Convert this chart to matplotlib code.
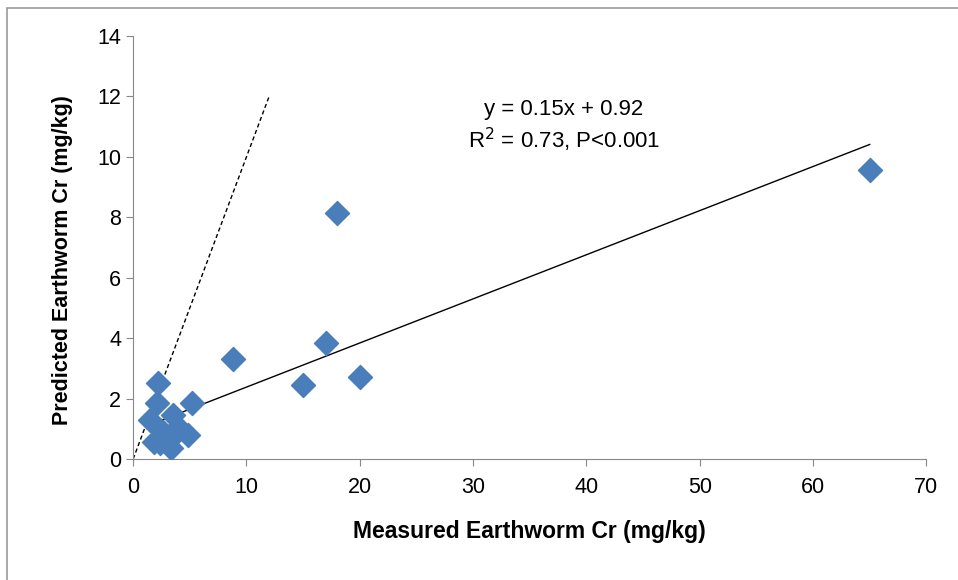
import matplotlib.pyplot as plt
from matplotlib.patches import Rectangle

# measured vs predicted earthworm Cr (mg/kg)
measured = [65, 18, 17, 8.8, 15, 20, 2.2, 2.1, 5.2, 1.5, 3.5,
            1.8, 3.3, 4.85, 2.6, 4.0, 3.3, 2.4]
predicted = [9.55, 8.15, 3.85, 3.3, 2.45, 2.7, 2.52, 1.85, 1.85, 1.3, 1.45,
             0.56, 0.36, 0.79, 0.9, 1.06, 0.7, 0.53]

fit_slope = 0.146
fit_intercept = 0.92
fit_range = [1.5, 65]
one_to_one = [0, 12]

plt.rcParams['font.family'] = ['Liberation Sans', 'DejaVu Sans']

fig = plt.figure(figsize=(9.58, 5.8), dpi=100)
ax = fig.add_axes([0.139, 0.2086, 0.828, 0.7294])

# outer frame (only left and top visible)
fig.patches.append(Rectangle((0.007, -0.05), 1.1, 1.036, transform=fig.transFigure,
                             fill=False, edgecolor='#999999', linewidth=1.2))

ax.scatter(measured, predicted, marker='D', s=150, color='#4a7ebb',
           edgecolors='#4a7ebb', zorder=3)

fx = fit_range
fy = [fit_slope * v + fit_intercept for v in fx]
ax.plot(fx, fy, color='black', linewidth=1, zorder=2)
ax.plot(one_to_one, one_to_one, color='black', linestyle='--', linewidth=1,
        dashes=(3, 2), zorder=2)

ax.text(38, 11.55, 'y = 0.15x + 0.92', ha='center', va='center', fontsize=16)
ax.text(38, 10.55, 'R$^2$ = 0.73, P<0.001', ha='center', va='center', fontsize=16)

ax.set_xlim(0, 70)
ax.set_ylim(0, 14)
ax.set_xticks(range(0, 71, 10))
ax.set_yticks(range(0, 15, 2))
ax.tick_params(labelsize=15.5, color='#888888', length=5, direction='out')
ax.tick_params(axis='x', pad=8)
for s in ['top', 'right']:
    ax.spines[s].set_visible(False)
for s in ['left', 'bottom']:
    ax.spines[s].set_color('#888888')

ax.set_xlabel('Measured Earthworm Cr (mg/kg)', fontsize=16.5, fontweight='bold', labelpad=16)
ax.set_ylabel('Predicted Earthworm Cr (mg/kg)', fontsize=15.5, fontweight='bold')
ax.yaxis.set_label_coords(-0.076, 0.47)

plt.savefig('out.png', dpi=100)
